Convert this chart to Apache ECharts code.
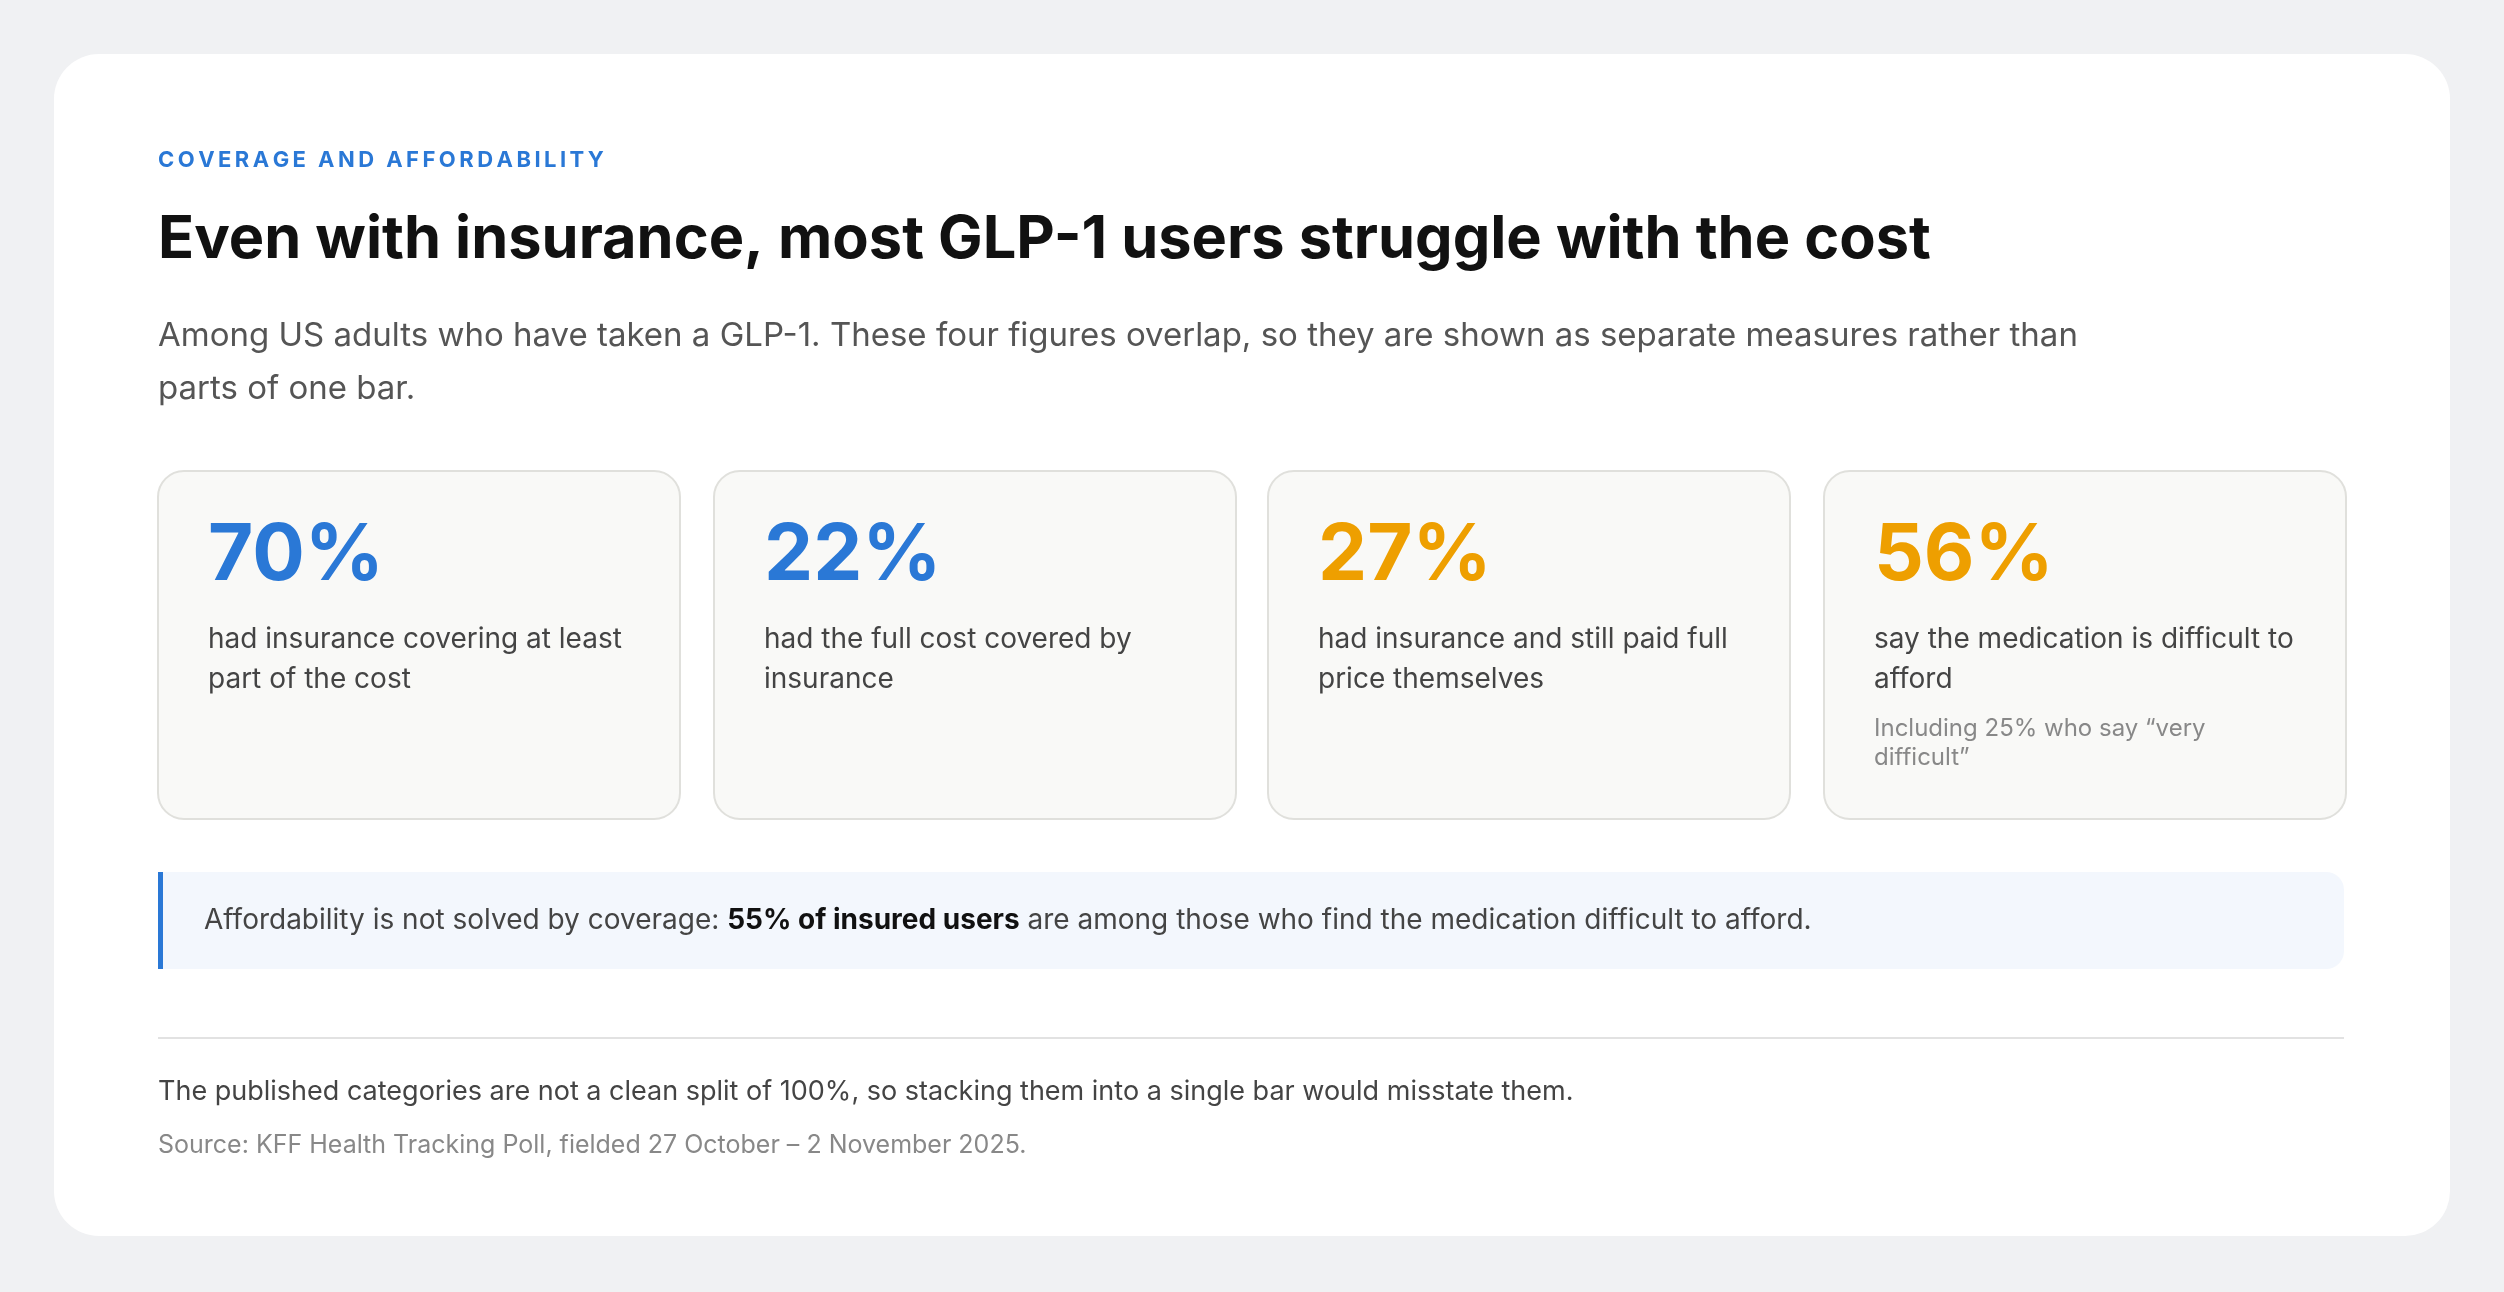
<!DOCTYPE html>
<html><head><meta charset="utf-8">
<script src="https://cdn.jsdelivr.net/npm/echarts@6/dist/echarts.min.js"></script>
<style>html,body{margin:0;padding:0;background:#f0f1f3}#c{width:2504px;height:1292px}</style>
</head><body><div id="c"></div>
<script>
const eyebrow = 'COVERAGE AND AFFORDABILITY';
const title = 'Even with insurance, most GLP-1 users struggle with the cost';
const subtitle = 'Among US adults who have taken a GLP-1. These four figures overlap, so they are shown as separate measures rather than\nparts of one bar.';
const values = [70, 22, 27, 56];
const labels = ['had insurance covering at least\npart of the cost','had the full cost covered by\ninsurance','had insurance and still paid full\nprice themselves','say the medication is difficult to\nafford'];
const notes = ['', '', '', 'Including 25% who say \u201cvery\ndifficult\u201d'];
const valueColors = ['#2a78d6','#2a78d6','#ee9f00','#ee9f00'];
const calloutPre = 'Affordability is not solved by coverage: ';
const calloutBold = '55% of insured users';
const calloutPost = ' are among those who find the medication difficult to afford.';
const footnote = 'The published categories are not a clean split of 100%, so stacking them into a single bar would misstate them.';
const source = 'Source: KFF Health Tracking Poll, fielded 27 October \u2013 2 November 2025.';

const F = 'Inter, "Noto Sans", sans-serif';
const els = [];
els.push({type:'rect',shape:{x:54,y:54,width:2396,height:1182,r:45},style:{fill:'#fff'}});
els.push({type:'text',x:158,y:160,style:{text:eyebrow.split('').join('\u2009'),font:'700 22px '+F,fill:'#2a78d6',verticalAlign:'middle'}});
els.push({type:'text',x:158,y:240,style:{text:title,font:'700 59.5px '+F,fill:'#111',verticalAlign:'middle'}});
els.push({type:'text',x:158,y:310,style:{text:subtitle,font:'400 33px '+F,fill:'#555',lineHeight:53,verticalAlign:'top'}});
const cx = [158,714,1268,1824];
values.forEach((v,i)=>{
  els.push({type:'rect',shape:{x:cx[i],y:471,width:522,height:348,r:26},style:{fill:'#f9f9f7',stroke:'#e0e0dc',lineWidth:2}});
  els.push({type:'text',x:cx[i]+50,y:557,style:{text:v+'%',font:'700 78px '+F,fill:valueColors[i],verticalAlign:'middle'}});
  els.push({type:'text',x:cx[i]+50,y:620,style:{text:labels[i],font:'400 28px '+F,fill:'#444',lineHeight:40,verticalAlign:'top'}});
  if(notes[i]) els.push({type:'text',x:cx[i]+50,y:714,style:{text:notes[i],font:'400 24px '+F,fill:'#888',lineHeight:29,verticalAlign:'top'}});
});
els.push({type:'rect',shape:{x:158,y:872,width:2186,height:97,r:[0,18,18,0]},style:{fill:'#f3f7fd'}});
els.push({type:'rect',shape:{x:158,y:872,width:5,height:97},style:{fill:'#2a78d6'}});
els.push({type:'text',x:204,y:921,style:{text:calloutPre+'{b|'+calloutBold+'}'+calloutPost,font:'400 28px '+F,fill:'#444',verticalAlign:'middle',rich:{b:{fontFamily:F,fontSize:28,fontWeight:700,fill:'#111'}}}});
els.push({type:'rect',shape:{x:158,y:1037,width:2186,height:2},style:{fill:'#e2e2e2'}});
els.push({type:'text',x:158,y:1092,style:{text:footnote,font:'400 27px '+F,fill:'#444',verticalAlign:'middle'}});
els.push({type:'text',x:158,y:1145,style:{text:source,font:'400 25px '+F,fill:'#888',verticalAlign:'middle'}});
const chart = echarts.init(document.getElementById('c'));
chart.setOption({backgroundColor:'#f0f1f3',graphic:{elements:els}});
</script></body></html>
